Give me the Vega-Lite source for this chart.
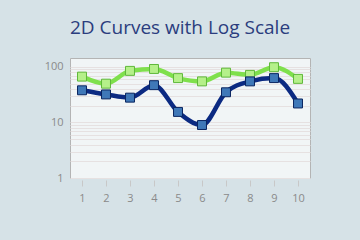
{
  "$schema": "https://vega.github.io/schema/vega-lite/v6.json",
  "width": 240,
  "height": 120,
  "autosize": "none",
  "padding": {"left": 70, "top": 58, "right": 50, "bottom": 62},
  "background": "#d6e2e7",
  "title": {"text": "2D Curves with Log Scale", "fontSize": 19, "font": "Open Sans", "fontWeight": "normal", "color": "#2b3d7e", "offset": 20, "anchor": "middle", "dx": -10},
  "config": {
    "view": {"fill": "#f1f5f6", "stroke": "#b4b4b4"},
    "axis": {"labelColor": "#8a8a8a", "labelFont": "Open Sans", "labelFontSize": 11, "domain": false}
  },
  "data": {"values": [
    {"x": 1, "s": "A", "v": 67}, {"x": 2, "s": "A", "v": 50}, {"x": 3, "s": "A", "v": 85}, {"x": 4, "s": "A", "v": 92}, {"x": 5, "s": "A", "v": 63},
    {"x": 6, "s": "A", "v": 55}, {"x": 7, "s": "A", "v": 79}, {"x": 8, "s": "A", "v": 72}, {"x": 9, "s": "A", "v": 99}, {"x": 10, "s": "A", "v": 61},
    {"x": 1, "s": "B", "v": 38}, {"x": 2, "s": "B", "v": 32}, {"x": 3, "s": "B", "v": 28}, {"x": 4, "s": "B", "v": 47}, {"x": 5, "s": "B", "v": 15.5},
    {"x": 6, "s": "B", "v": 9}, {"x": 7, "s": "B", "v": 35}, {"x": 8, "s": "B", "v": 55}, {"x": 9, "s": "B", "v": 63}, {"x": 10, "s": "B", "v": 22}
  ]},
  "encoding": {
    "x": {"field": "x", "type": "quantitative", "scale": {"domain": [0.5, 10.5], "nice": false, "zero": false},
          "axis": {"title": null, "values": [1,2,3,4,5,6,7,8,9,10], "grid": false, "ticks": true, "tickColor": "#c8c8c8", "tickSize": 6, "labelPadding": 6, "offset": 2}},
    "y": {"field": "v", "type": "quantitative", "scale": {"type": "log", "domain": [1, 145], "nice": false},
          "axis": {"title": null, "values": [1,2,3,4,5,6,7,8,9,10,20,30,40,50,60,70,80,90,100], "format": ".0f",
                   "labelExpr": "datum.value == 1 || datum.value == 10 || datum.value == 100 ? datum.label : ''",
                   "ticks": false, "gridColor": "#e6e1e1", "labelPadding": 7}},
    "color": {"field": "s", "type": "nominal", "legend": null, "scale": {"domain": ["A", "B"], "range": ["#7fe04c", "#0b2a82"]}}
  },
  "layer": [
    {"mark": {"type": "line", "interpolate": "monotone", "strokeWidth": 4.5}},
    {"mark": {"type": "square", "size": 80, "opacity": 1, "strokeWidth": 1},
     "encoding": {
       "fill": {"field": "s", "type": "nominal", "legend": null, "scale": {"domain": ["A", "B"], "range": ["#b5f08a", "#3f78b8"]}},
       "stroke": {"field": "s", "type": "nominal", "legend": null, "scale": {"domain": ["A", "B"], "range": ["#5fb83a", "#0a2560"]}}
     }}
  ]
}
